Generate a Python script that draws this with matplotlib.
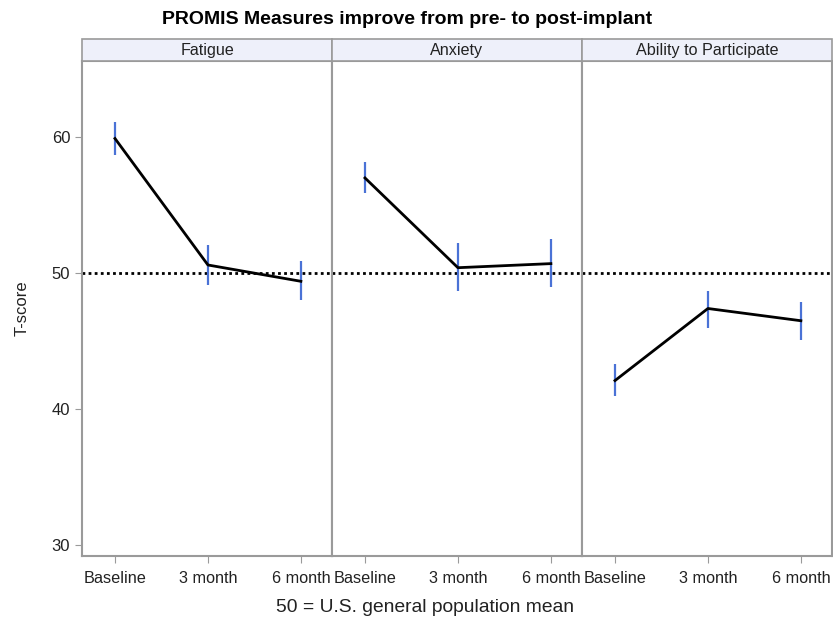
import numpy as np
import matplotlib
matplotlib.use("Agg")
from matplotlib import pyplot as plt
from matplotlib.patches import Rectangle

plt.rcParams['font.family'] = ['Liberation Sans', 'DejaVu Sans']

# ---------------- data --------------------------------------
timepoints = ['Baseline', '3 month', '6 month']
measures = ['Fatigue', 'Anxiety', 'Ability to Participate']

means = [
    [59.9, 50.6, 49.4],   # Fatigue
    [57.0, 50.4, 50.7],   # Anxiety
    [42.1, 47.4, 46.5],   # Ability to Participate
]
lower = [
    [58.7, 49.1, 48.0],
    [55.9, 48.7, 49.0],
    [41.0, 46.0, 45.1],
]
upper = [
    [61.1, 52.1, 50.9],
    [58.2, 52.2, 52.5],
    [43.3, 48.7, 47.9],
]
pop_mean = 50
y_ticks = [30, 40, 50, 60]

GREY = '#9a9a9a'
BLUE = '#4a72d6'
TXT = '#222222'

fig = plt.figure(figsize=(8.33, 6.19), dpi=100)
left, right = 82 / 833, 832 / 833
bottom, top = 1 - 556 / 619, 1 - 61 / 619
strip_h = 22 / 619
w = (right - left) / 3

x = np.arange(len(timepoints))
axes = []
for i, name in enumerate(measures):
    ax = fig.add_axes([left + i * w, bottom, w, top - bottom])
    axes.append(ax)
    ax.axhline(pop_mean, color='black', ls=(0, (1, 1.2)), lw=2, zorder=1)
    ax.vlines(x, lower[i], upper[i], color=BLUE, lw=1.6, zorder=2)
    ax.plot(x, means[i], color='black', lw=2, zorder=3)
    ax.set_xlim(-0.355, 2.335)
    ax.set_ylim(29.2, 65.6)
    ax.set_xticks(x)
    ax.set_xticklabels(timepoints, fontsize=11.7, color=TXT)
    ax.tick_params(axis='x', length=5, color=GREY, pad=6)
    for s in ax.spines.values():
        s.set_color(GREY)
        s.set_linewidth(1.5)
    if i == 0:
        ax.set_yticks(y_ticks)
        ax.tick_params(axis='y', length=5, color=GREY, labelsize=12,
                       labelcolor=TXT)
        ax.set_ylabel('T-score', fontsize=12, labelpad=16, color=TXT)
    else:
        ax.set_yticks([])

    # facet header strip
    fig.patches.append(Rectangle((left + i * w, top), w, strip_h,
                                 transform=fig.transFigure, facecolor='#eef0fa',
                                 edgecolor=GREY, lw=1.2))
    fig.text(left + (i + 0.5) * w, top + strip_h / 2, name, ha='center',
             va='center', fontsize=11.6, color=TXT)

fig.text(0.489, 1 - 19 / 619,
         'PROMIS Measures improve from pre- to post-implant',
         ha='center', va='center', fontsize=14.0, fontweight='bold')
fig.text(0.510, 1 - 607 / 619,
         '50 = U.S. general population mean',
         ha='center', va='center', fontsize=13.9, color=TXT)

fig.savefig('out.png', dpi=100)
